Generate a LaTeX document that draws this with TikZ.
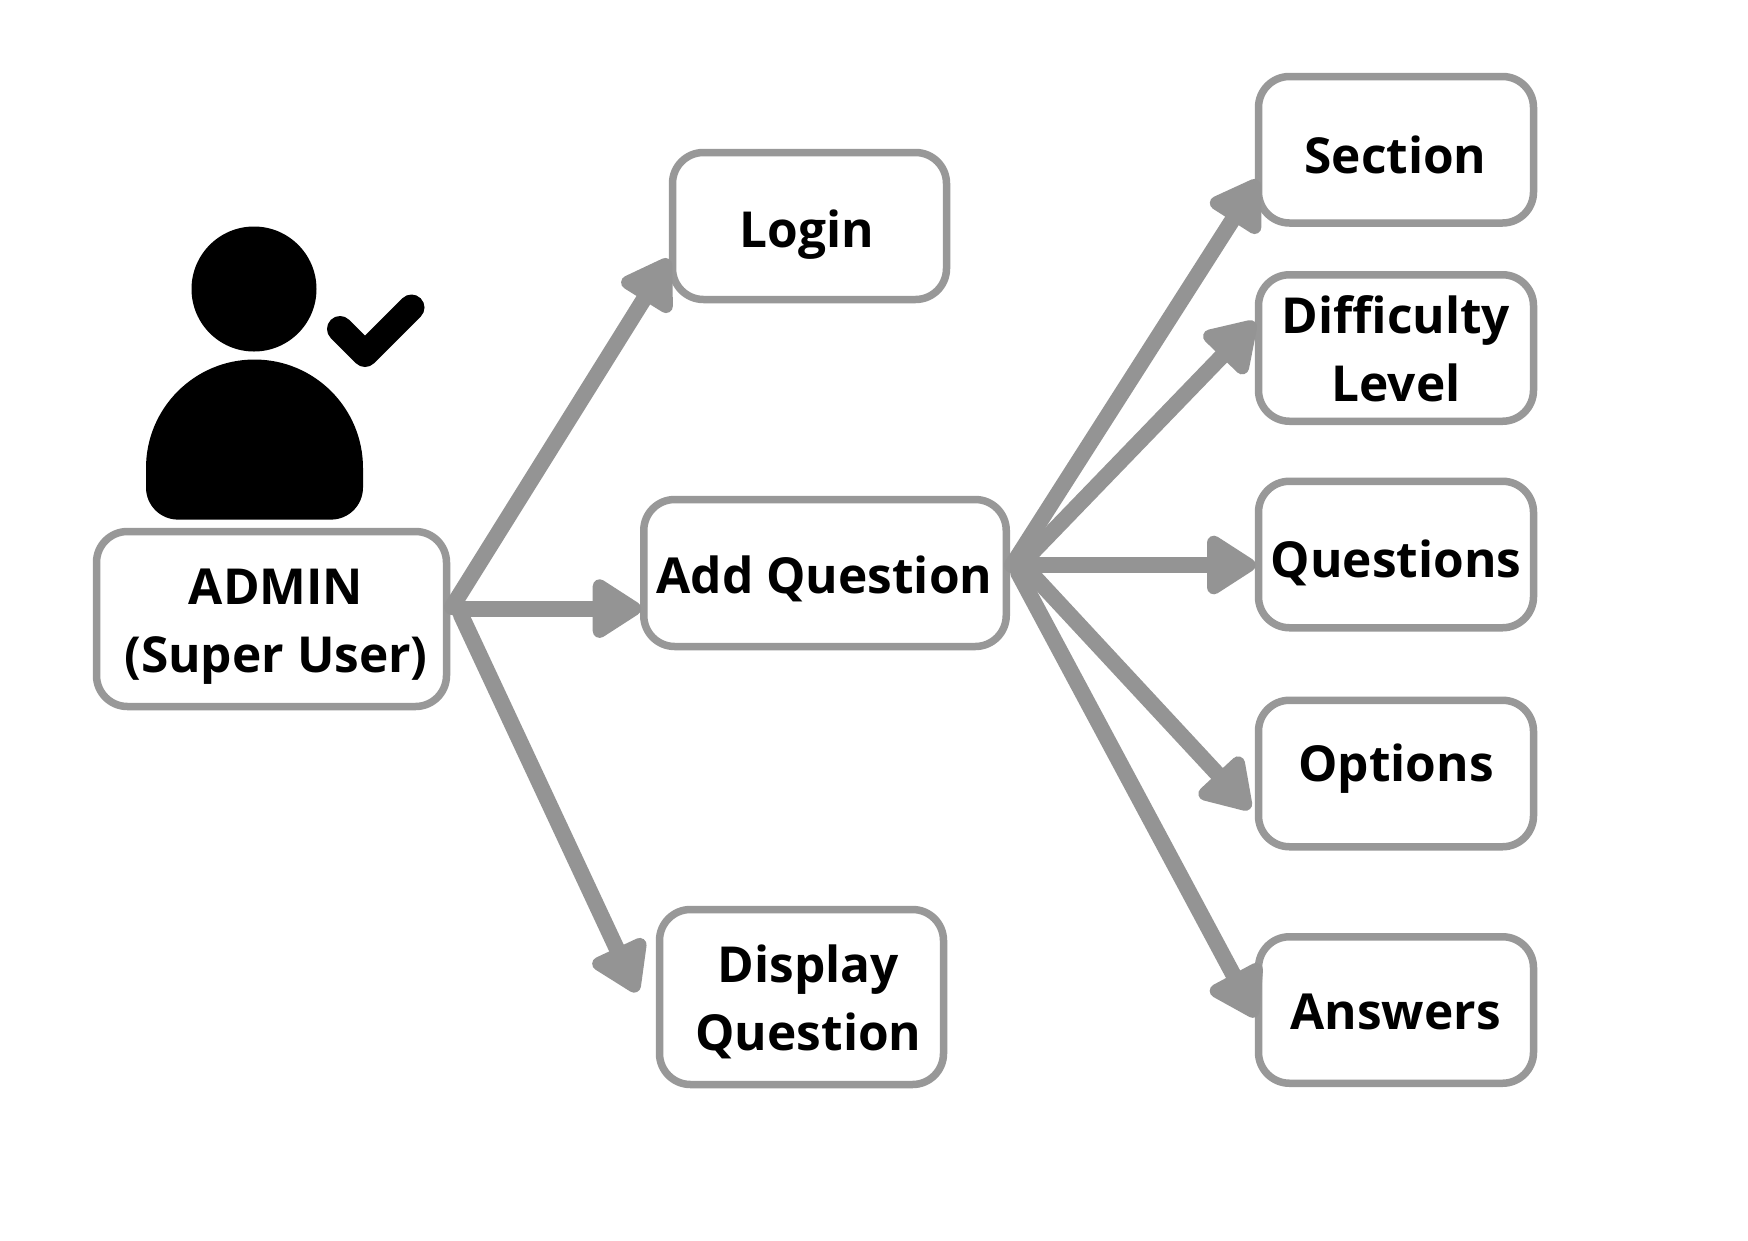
\documentclass[tikz,border=0pt]{standalone}
\usepackage{fontspec}
\setmainfont{Open Sans}
\usetikzlibrary{arrows.meta}
\definecolor{boxgray}{RGB}{152,152,152}
\definecolor{arrgray}{RGB}{148,148,148}
\newcommand{\lbl}[3]{\raisebox{-#2pt}[0pt][0pt]{\makebox[0pt]{\kern #1pt\kern #1pt\begin{tabular}[t]{@{}c@{}}#3\end{tabular}}}}
\tikzset{
  opbox/.style={draw=boxgray,line width=7.5pt,fill=white,rounded corners=31pt,rectangle,inner sep=0pt,outer sep=0pt,
    font=\fontsize{49.6}{68}\selectfont\bfseries,text=black},
  rightbox/.style={opbox,minimum width=275pt,minimum height=146.5pt},
  arr/.style={draw=arrgray,line width=16pt,line cap=round,
    -{Triangle[length=55pt,width=66pt,round,line width=14pt]}}
}
\begin{document}
\begin{tikzpicture}[x=1pt,y=-1pt]
\useasboundingbox (0,0) rectangle (1748,1240);
\fill[white] (0,0) rectangle (1748,1240);
% person
\fill[black] (254,289) circle[radius=62.5];
\fill[black] (146,468) arc[start angle=180,end angle=360,radius=108.5] -- (363,487.6)
  arc[start angle=0,end angle=90,radius=32] -- (178,519.6)
  arc[start angle=90,end angle=180,radius=32] -- cycle;
\draw[black,line width=26pt,line cap=round,line join=round] (340,329) -- (365,354) -- (411.5,307.5);
% boxes
\node[opbox,minimum width=350pt,minimum height=175pt] (admin) at (271.5,619) {\lbl{4.5}{-14.4}{ADMIN\\(Super User)}};
\node[opbox,minimum width=274pt,minimum height=147pt] (login) at (809.5,226) {\lbl{-2.5}{21}{Login}};
\node[opbox,minimum width=362.5pt,minimum height=147pt] (addq) at (825,573) {\lbl{-0.5}{20}{Add Question}};
\node[opbox,minimum width=284pt,minimum height=175pt] (dispq) at (801.5,997) {\lbl{7}{-14.5}{Display\\Question}};
\node[rightbox] (section) at (1396,149.75) {\lbl{-0.5}{24}{Section}};
\node[rightbox] (difficulty) at (1396,348) {\lbl{0}{-14.5}{Difficulty\\Level}};
\node[rightbox] (questions) at (1396,554.5) {\lbl{0}{23}{Questions}};
\node[rightbox] (options) at (1396,773.5) {\lbl{0}{7.5}{Options}};
\node[rightbox] (answers) at (1396,1010) {\lbl{-0.5}{19}{Answers}};
% connectors
\draw[arr] ([shift={(5.5,-12)}]admin.east) -- ([shift={(-3.5,33)}]login.west);
\draw[arr] ([shift={(10.5,-10.4)}]admin.east) -- ([shift={(-2.5,35.6)}]addq.west);
\draw[arr] ([shift={(14.5,-4)}]admin.east) -- ([shift={(-22.5,-5)}]dispq.west);
\draw[arr] ([shift={(6,-8)}]addq.east) -- ([shift={(-.5,30.25)}]section.west);
\draw[arr] ([shift={(12,-6)}]addq.east) -- ([shift={(-3.5,-26)}]difficulty.west);
\draw[arr] ([shift={(6,-8)}]addq.east) -- ([shift={(-3,10.5)}]questions.west);
\draw[arr] ([shift={(20,-5)}]addq.east) -- ([shift={(-8.5,35.5)}]options.west);
\draw[arr] ([shift={(12,0)}]addq.east) -- ([shift={(-2.5,7)}]answers.west);
\end{tikzpicture}
\end{document}
